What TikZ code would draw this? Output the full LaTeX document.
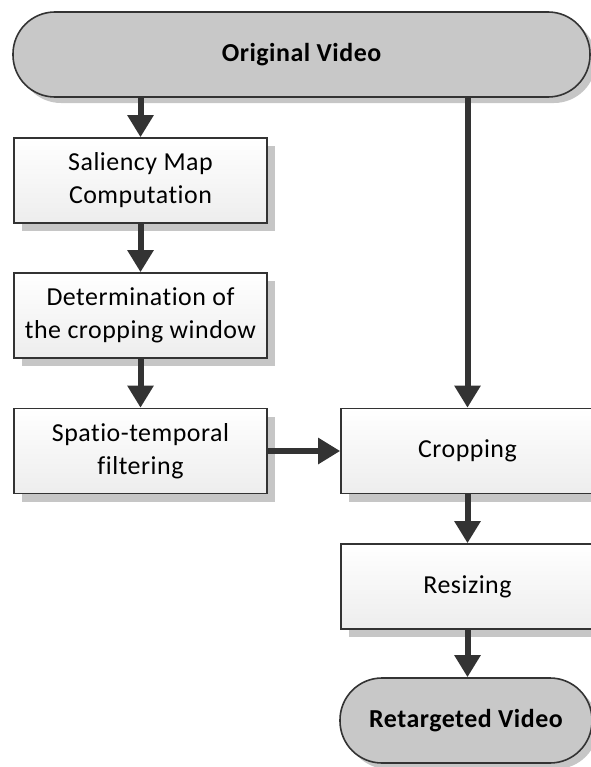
\documentclass[tikz,border=0pt]{standalone}
\usepackage{fontspec}
\setmainfont[LetterSpace=2,Ligatures=NoCommon]{Carlito}
\usetikzlibrary{arrows.meta,shadows}
\definecolor{edge}{HTML}{333333}
\definecolor{termfill}{HTML}{C8C8C8}
\definecolor{shade}{HTML}{C6C6C6}
\begin{document}
\begin{tikzpicture}[x=1bp,y=-1bp,
  stepbox/.style={draw=edge, line width=1.6bp, rectangle,
    top color=white, bottom color=black!7,
    minimum width=253bp, minimum height=85bp, inner sep=0pt,
    align=center, font=\fontsize{26}{33}\selectfont,
    drop shadow={shadow xshift=8bp, shadow yshift=-8bp, fill=shade, opacity=1}},
  terminal/.style={draw=edge, line width=1.6bp, rectangle, rounded corners=42bp,
    fill=termfill, minimum height=85bp, inner sep=0pt,
    font=\bfseries\fontsize{26}{33}\selectfont,
    drop shadow={shadow xshift=6bp, shadow yshift=-6bp, fill=shade, opacity=1}},
  flow/.style={draw=edge, line width=6bp,
    -{Triangle[width=25bp,length=22bp]}}]
  \useasboundingbox (0,0) rectangle (591,767);

  % start and end terminals
  \node[terminal, minimum width=577bp] (orig) at (301.5,54.5) {Original Video};
  \node[terminal, minimum width=252bp] (retarget) at (466,720.5) {Retargeted Video};

  % left column: window estimation
  \node[stepbox] (saliency) at (140.5,180.5) {Saliency Map\\Computation};
  \node[stepbox] (window) at (140.5,315.5) {Determination of\\the cropping window};
  \node[stepbox] (filter) at (140.5,451) {Spatio-temporal\\filtering};

  % right column: applying the window
  \node[stepbox] (crop) at (467.5,451) {Cropping};
  \node[stepbox] (resize) at (467.5,586.5) {Resizing};

  % connectors
  \draw[flow] (orig.south -| saliency.north) -- (saliency.north);
  \draw[flow] (saliency) -- (window);
  \draw[flow] (window) -- (filter);
  \draw[flow] (filter) -- (crop);
  \draw[flow] (orig.south -| crop.north) -- (crop.north);
  \draw[flow] (crop) -- (resize);
  \draw[flow] (resize.south) -- (resize.south |- retarget.north);
\end{tikzpicture}
\end{document}
